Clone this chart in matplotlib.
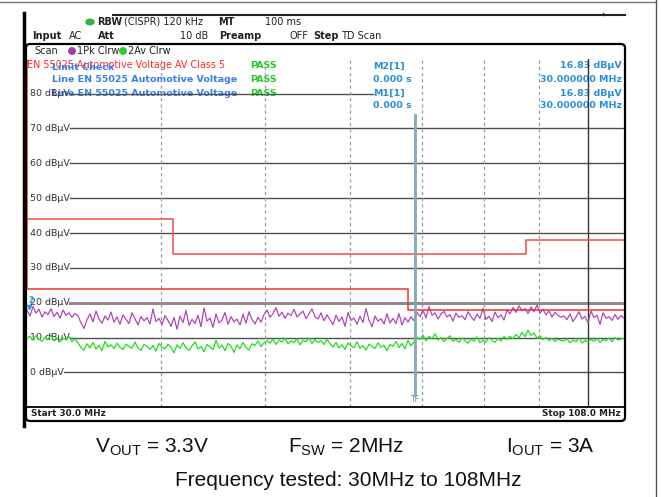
import numpy as np
import matplotlib
matplotlib.use("Agg")
import matplotlib.pyplot as plt
from matplotlib.patches import FancyBboxPatch, Ellipse

plt.rcParams['font.family'] = ['DejaVu Sans']
plt.rcParams['mathtext.fontset'] = 'custom'
plt.rcParams['mathtext.rm'] = 'Liberation Sans'
plt.rcParams['mathtext.it'] = 'Liberation Sans'

# ---- sweep settings ----
f_start, f_stop = 30.0, 108.0
y_min, y_max = -10, 90
grid_levels = [0, 10, 20, 30, 40, 50, 60, 70, 80]
grid_freqs_dashed = [40, 50, 60, 70, 80, 90]
grid_freq_solid = 100
tf_freq = 69.0

# ---- limit lines (EN 55025 Class 5) ----
limit_hi_edges = [30, 41, 87.5, 108]
limit_hi_levels = [44, 34, 38]
limit_lo_edges = [30, 68, 108]
limit_lo_levels = [24, 18]

# ---- measured traces (dBuV) ----
peak_trace = [
    17.8, 16.2, 18.9, 17.0, 18.1, 15.9, 17.4, 16.6, 18.3, 16.0, 17.2, 15.6, 17.9, 16.4, 17.1, 15.8, 16.9, 16.3,
    14.2, 12.6, 15.1, 16.8, 14.5, 17.6, 15.3, 14.1, 16.2, 15.0, 17.3, 14.4, 15.9, 13.8, 16.5, 15.2, 14.0, 17.1,
    15.4, 13.6, 16.0, 14.8, 15.7, 13.9, 18.2, 14.6, 15.5, 13.7,
    16.3, 14.9, 13.2, 15.8, 12.4, 16.1, 14.3, 17.8, 13.5, 15.2, 14.0, 16.4, 13.1, 18.5, 14.7, 15.6, 12.9, 16.8,
    14.2, 15.0, 17.2, 13.8, 16.0, 14.5, 15.3, 13.6, 16.7, 14.1, 17.4, 15.2, 13.9, 15.8, 14.4, 16.6,
    17.9, 15.8, 16.9, 18.6, 16.1, 17.3, 15.5, 17.0, 16.3, 18.1, 15.9, 16.7, 17.6, 15.4, 16.8, 18.2, 16.0, 15.3,
    17.1, 14.8, 16.5,
    15.1, 13.7, 16.4, 14.6, 15.9, 13.2, 17.2, 14.9, 15.6, 13.8, 16.1, 14.3, 18.3, 15.0, 13.1, 16.2, 14.7, 15.4,
    13.9, 16.8, 14.2, 15.5, 14.0, 16.9, 13.6, 15.7, 14.4, 16.0, 14.8,
    17.2, 16.0, 17.8, 15.6, 18.9, 16.4, 17.1, 15.3, 16.8, 17.5, 15.9, 16.6, 14.7, 17.0, 15.8, 16.3, 15.1, 17.4,
    16.0, 14.9, 16.7, 15.5, 18.4, 15.2, 16.1, 14.6, 17.3, 15.7, 16.5, 15.0, 17.9,
    16.8, 18.6, 17.2, 19.1, 17.7, 18.3, 16.9, 18.8, 17.4, 19.3, 17.0, 18.1, 16.5, 17.6, 15.9, 17.2, 16.4, 15.8,
    16.2, 15.1, 16.8, 14.6, 15.9, 17.4, 15.3, 16.1, 14.2, 17.6, 15.7, 16.4, 13.8, 17.1, 15.5, 16.0, 14.9, 16.6,
    15.2, 16.3, 15.6,
]
avg_trace = [
    9.8, 10.4, 9.2, 10.6, 9.5, 8.9, 10.1, 9.4, 10.8, 9.0, 9.7, 8.7, 9.9, 9.3, 10.2, 8.8, 9.6, 8.5,
    7.1, 6.4, 8.2, 7.0, 8.6, 6.7, 7.8, 6.2, 8.9, 7.3, 7.9, 6.8, 8.4, 7.2, 6.5, 8.1, 7.4, 6.9, 8.7, 7.0, 6.3, 8.0,
    7.5, 6.6, 7.7, 6.1, 8.3, 7.2,
    6.8, 8.1, 7.2, 5.6, 7.9, 6.9, 8.5, 7.1, 6.3, 7.6, 8.8, 6.7, 7.4, 5.9, 8.0, 7.3, 6.5, 9.2, 7.0, 7.8, 6.2, 8.3,
    7.5, 5.7, 7.9, 6.8, 8.6, 7.1, 6.4, 8.2, 7.7, 9.0, 7.4, 8.5,
    9.1, 8.4, 9.6, 8.0, 9.3, 8.7, 9.8, 8.2, 9.0, 8.5, 9.7, 7.9, 9.2, 8.8, 9.9, 8.3, 9.4, 8.6, 9.1, 8.0, 9.5,
    8.2, 7.3, 8.6, 7.0, 7.9, 6.6, 8.4, 7.6, 7.1, 8.8, 6.9, 7.7, 6.4, 8.1, 7.4, 6.8, 8.5, 7.2, 7.8, 6.2, 8.0, 7.5,
    8.9, 7.1, 8.3, 6.7, 9.2, 7.6, 8.7,
    10.1, 9.4, 10.7, 9.0, 10.4, 9.6, 11.1, 9.3, 10.0, 8.8, 9.7, 10.5, 8.9, 9.5, 8.6, 9.9, 9.1, 8.4, 9.6, 8.9,
    10.2, 8.5, 9.3, 8.7, 10.0, 9.2, 8.6, 9.8, 9.0, 10.3, 9.4,
    10.4, 9.6, 10.9, 9.9, 11.5, 10.2, 12.1, 10.6, 11.3, 9.8, 10.5, 9.4, 10.0, 9.1, 9.7, 8.9, 9.5, 9.2,
    9.0, 9.6, 8.5, 9.3, 8.8, 9.9, 8.4, 9.2, 8.7, 9.5, 8.9, 9.7, 8.6, 9.4, 9.1, 9.8, 8.8, 10.0, 9.3, 9.6, 9.8,
]
trace_freqs = np.geomspace(f_start, f_stop, len(peak_trace))

W, H = 661, 497
fig = plt.figure(figsize=(W / 100, H / 100), dpi=100)
fig.patch.set_facecolor('white')

# overlay in pixel coordinates for the instrument frame and header text
ov = fig.add_axes([0, 0, 1, 1], zorder=0)
ov.set_xlim(0, W)
ov.set_ylim(H, 0)
ov.axis('off')

# main spectrum axes
px_l, px_r, px_t, px_b = 27, 624, 58.8, 407.2
ax = fig.add_axes([px_l / W, 1 - px_b / H, (px_r - px_l) / W, (px_b - px_t) / H], zorder=1)
ax.set_facecolor('none')
ax.set_xscale('log')
ax.set_xlim(f_start, f_stop)
ax.set_ylim(y_min, y_max)
ax.set_xticks([])
ax.set_yticks([])
ax.minorticks_off()
for s in ['left', 'right', 'top']:
    ax.spines[s].set_visible(False)
ax.spines['bottom'].set_color('black')
ax.spines['bottom'].set_linewidth(1.3)

# frame pieces
ov.plot([0, 656], [1.5, 1.5], color='#777777', lw=1)
ov.plot([656, 656], [0, H], color='#555555', lw=1)
ov.plot([113, 625], [15, 15], color='#222222', lw=1.5)
ov.plot([603, 603], [13, 15], color='#222222', lw=1)
ov.plot([24, 24], [13, 426], color='black', lw=2.5)
box = FancyBboxPatch((26, 44), 599, 377, boxstyle='round,pad=0,rounding_size=4',
                     fc='none', ec='black', lw=1.6)
ov.add_patch(box)

# header
fs = 7
ov.add_patch(Ellipse((90, 22), 8, 5.5, color='#3cb043'))
ov.text(97, 22, 'RBW', fontsize=fs, fontweight='bold', va='center', color='#222')
ov.text(124, 22, '(CISPR) 120 kHz', fontsize=fs, va='center', color='#222')
ov.text(218, 22, 'MT', fontsize=fs, fontweight='bold', va='center', color='#222')
ov.text(265, 22, '100 ms', fontsize=fs, va='center', color='#222')
ov.text(32, 36, 'Input', fontsize=fs, fontweight='bold', va='center', color='#222')
ov.text(69, 36, 'AC', fontsize=fs, va='center', color='#222')
ov.text(98, 36, 'Att', fontsize=fs, fontweight='bold', va='center', color='#222')
ov.text(208, 36, '10 dB', fontsize=fs, va='center', ha='right', color='#222')
ov.text(219, 36, 'Preamp', fontsize=fs, fontweight='bold', va='center', color='#222')
ov.text(290, 36, 'OFF', fontsize=fs, va='center', color='#222')
ov.text(313, 36, 'Step', fontsize=fs, fontweight='bold', va='center', color='#222')
ov.text(341, 36, 'TD Scan', fontsize=fs, va='center', color='#222')
ov.text(34, 51, 'Scan', fontsize=fs, va='center', color='#222')
ov.add_patch(Ellipse((72, 51), 6.5, 6.5, color='#a63aa6'))
ov.text(77, 51, '1Pk Clrw', fontsize=fs, va='center', color='#222')
ov.add_patch(Ellipse((123, 51), 6.5, 6.5, color='#2ecc2e'))
ov.text(128, 51, '2Av Clrw', fontsize=fs, va='center', color='#222')

# limit check block
blue = '#3a80e4'
green_txt = '#22cc22'
ov.text(27, 65, 'EN 55025 Automotive Voltage AV Class 5', fontsize=6.9, va='center', color='#ff2a2a')
ov.text(52, 67, 'Limit Check', fontsize=6.8, fontweight='bold', va='center', color=blue)
ov.text(52, 80, 'Line EN 55025 Automotive Voltage', fontsize=6.8, fontweight='bold', va='center', color=blue)
ov.text(52, 93, 'Line EN 55025 Automotive Voltage', fontsize=6.8, fontweight='bold', va='center', color=blue)
for yy in [66, 80, 93]:
    ov.text(250, yy, 'PASS', fontsize=6.8, fontweight='bold', va='center', color=green_txt)

# marker table
mcol = '#2a90d8'
rows = [('M2[1]', '16.83 dBµV', 66), ('0.000 s', '30.000000 MHz', 79),
        ('M1[1]', '16.83 dBµV', 93), ('0.000 s', '30.000000 MHz', 106)]
for left, right, yy in rows:
    ov.text(373, yy, left, fontsize=6.8, fontweight='bold', va='center', color=mcol)
    ov.text(622, yy, right, fontsize=6.8, fontweight='bold', va='center', ha='right', color=mcol)

# start / stop
ov.text(31, 413, 'Start 30.0 MHz', fontsize=6.4, fontweight='bold', va='center', color='#222')
ov.text(621, 413, 'Stop 108.0 MHz', fontsize=6.4, fontweight='bold', va='center', ha='right', color='#222')

# horizontal grid with level labels
ytr = ax.get_yaxis_transform()
for lv in grid_levels:
    label = f'{lv} dBµV'
    ax.text(0.005, lv, label, transform=ytr, fontsize=6.8, va='center', ha='left', color='#333333')
    xmin = 0.062 if lv < 10 else 0.072
    xmax = 0.58 if lv == 80 else 1.0
    if lv == 20:
        ax.axhline(lv, xmin=xmin, xmax=xmax, color='#8c8c8c', lw=2.2, zorder=1)
    else:
        ax.axhline(lv, xmin=xmin, xmax=xmax, color='#505050', lw=1.0, zorder=1)

# vertical grid
for f in grid_freqs_dashed:
    ax.axvline(f, color='#9a9a9a', lw=0.9, ls=(0, (2.5, 2.5)), zorder=1)
ax.axvline(grid_freq_solid, color='#333333', lw=1.0, zorder=1)

# traces
ax.plot(trace_freqs, peak_trace, color='#b048b8', lw=0.9, zorder=3)
ax.plot(trace_freqs, avg_trace, color='#22dd22', lw=0.9, zorder=3)

# limit lines
hi_x = [limit_hi_edges[0]]
hi_y = [limit_hi_levels[0]]
for i, lv in enumerate(limit_hi_levels):
    hi_x += [limit_hi_edges[i], limit_hi_edges[i + 1]]
    hi_y += [lv, lv]
ax.plot(hi_x, hi_y, color='#f24a4a', lw=1.1, zorder=4)
lo_x = [limit_lo_edges[0]]
lo_y = [y_max]
for i, lv in enumerate(limit_lo_levels):
    lo_x += [limit_lo_edges[i], limit_lo_edges[i + 1]]
    lo_y += [lv, lv]
ax.plot(lo_x, lo_y, color='#f23030', lw=1.1, zorder=4)

# trigger/frequency marker
ax.plot([tf_freq, tf_freq], [-6.5, 74], color='#80aab4', lw=2.0, zorder=5)
ax.text(tf_freq, -7.8, 'TF', fontsize=5.5, color='#4a8a9a', ha='center', va='center')

# marker 2 tag at start frequency
ax.text(30.1, 20.6, '2', fontsize=5.5, color='#3090e0', ha='left', va='center', fontweight='bold')
ax.plot([30.15], [18.8], marker='v', ms=3, color='#3090e0', clip_on=False)

# operating conditions
cfs = 15
ov.text(152, 447, r'V$_{\mathrm{OUT}}$ = 3.3V', fontsize=cfs, family='Liberation Sans', ha='center', va='center', color='#111')
ov.text(346, 447, r'F$_{\mathrm{SW}}$ = 2MHz', fontsize=cfs, family='Liberation Sans', ha='center', va='center', color='#111')
ov.text(550, 447, r'I$_{\mathrm{OUT}}$ = 3A', fontsize=cfs, family='Liberation Sans', ha='center', va='center', color='#111')
ov.text(348, 481, 'Frequency tested: 30MHz to 108MHz', fontsize=cfs, family='Liberation Sans',
        ha='center', va='center', color='#111')

fig.savefig('out.png', dpi=100, facecolor='white')
